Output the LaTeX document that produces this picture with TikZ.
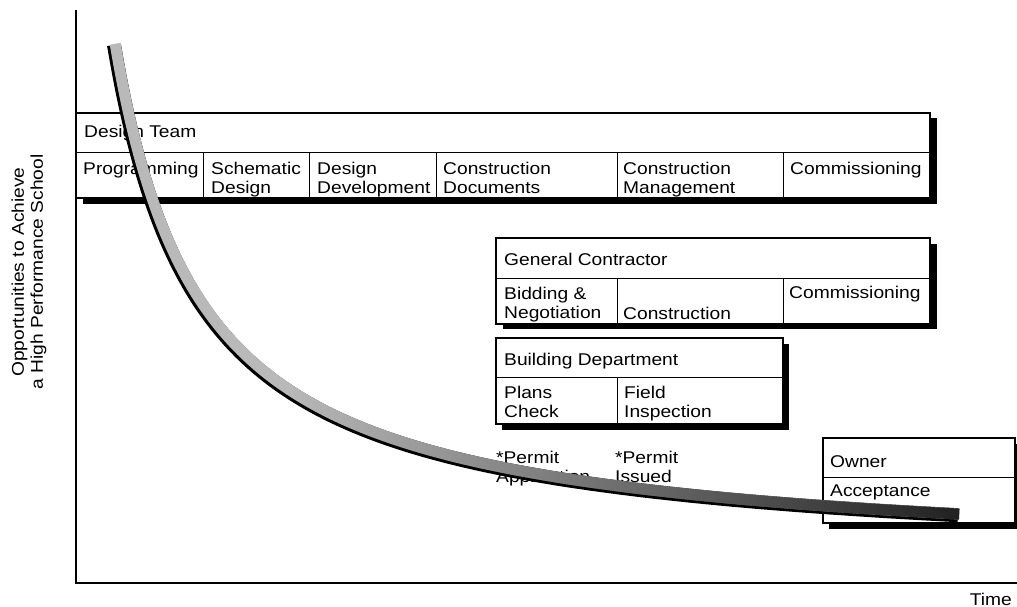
\documentclass[tikz,border=0pt]{standalone}
\usepackage{fontspec}
\setmainfont[FakeStretch=1.13]{Liberation Sans}
\usetikzlibrary{fadings}
\begin{document}
\begin{tikzpicture}[x=1pt,y=-1pt,
  font=\fontsize{17}{19}\selectfont,
  lbl/.style={anchor=base west, inner sep=0pt, align=left},
  frame/.style={draw=black, line width=1.1pt, fill=white},
  shade/.style={fill=black},
  divider/.style={draw=black, line width=0.9pt},
  axis/.style={draw=black, line width=2pt},
  bandout/.style={draw=black, line width=14pt, line cap=butt},
  bandin/.style={draw=gray!55, line width=11pt, line cap=butt},
  banddark/.style={draw=gray!25!black, line width=11pt, line cap=butt, path fading=west}]
\useasboundingbox (0,0) rectangle (1017,607);

% axes
\coordinate (yt) at (76,10);
\coordinate (org) at (76,583);
\coordinate (xe) at (1017,583);
\draw[axis] (yt) -- (org) -- (xe);

\node[rotate=90, align=center, inner sep=0pt] (ylab) at (29,272)
  {Opportunities to Achieve\\a High Performance School};
\node[anchor=base east, inner sep=0pt] (time) at (1012,605) {Time};

% Design Team box
\fill[shade] (83,118) rectangle (937,204);
\draw[frame] (76,113) rectangle (930,198);
\draw[divider] (76,152) -- (930,152);
\foreach \xx in {203,309,436,617,783} \draw[divider] (\xx,152) -- (\xx,198);
\node[lbl] (dt) at (84,138) {Design Team};
\node[lbl] (prog) at (83,174) {Programming};
\node[lbl] (sd) at (211,193) {Schematic\\Design};
\node[lbl] (dd) at (317,193) {Design\\Development};
\node[lbl] (cd) at (443,193) {Construction\\Documents};
\node[lbl] (cm) at (623,193) {Construction\\Management};
\node[lbl] (cx1) at (790,174) {Commissioning};

% General Contractor box
\fill[shade] (503,244) rectangle (937,329);
\draw[frame] (496,238) rectangle (930,324);
\draw[divider] (496,278) -- (930,278);
\foreach \xx in {617,783} \draw[divider] (\xx,278) -- (\xx,324);
\node[lbl] (gc) at (504,265) {General Contractor};
\node[lbl] (bn) at (504,318) {Bidding \&\\Negotiation};
\node[lbl] (con) at (623,319) {Construction};
\node[lbl] (cx2) at (789,298) {Commissioning};

% Building Department box
\fill[shade] (502,344) rectangle (789,430);
\draw[frame] (496,338) rectangle (783,424);
\draw[divider] (496,377) -- (783,377);
\draw[divider] (617,377) -- (617,424);
\node[lbl] (bd) at (504,365) {Building Department};
\node[lbl] (pc) at (504,417) {Plans\\Check};
\node[lbl] (fi) at (624,417) {Field\\Inspection};

% permits
\node[lbl] (pa) at (496,482) {*Permit\\Application};
\node[lbl] (pi) at (615,482) {*Permit\\Issued};

% Owner box
\fill[shade] (829,444) rectangle (1017,529);
\draw[frame] (823,438) rectangle (1015,523);
\draw[divider] (823,477) -- (1015,477);
\node[lbl] (ow) at (830,467) {Owner};
\node[lbl] (ac) at (830,496) {Acceptance};

% opportunity curve: y = 563.6 - 45070/(x-27.1)
\draw[bandout] plot[domain=0:2.373, samples=120, variable=\t]
  ({27.1+86.9*exp(\t)}, {563.6-518.6*exp(-\t)});
\draw[bandin, xshift=1.2pt, yshift=1.2pt] plot[domain=0:2.373, samples=120, variable=\t]
  ({27.1+86.9*exp(\t)}, {563.6-518.6*exp(-\t)});
\draw[banddark, xshift=1.2pt, yshift=1.2pt] plot[domain=1.107:2.373, samples=80, variable=\t]
  ({27.1+86.9*exp(\t)}, {563.6-518.6*exp(-\t)});
\end{tikzpicture}
\end{document}
